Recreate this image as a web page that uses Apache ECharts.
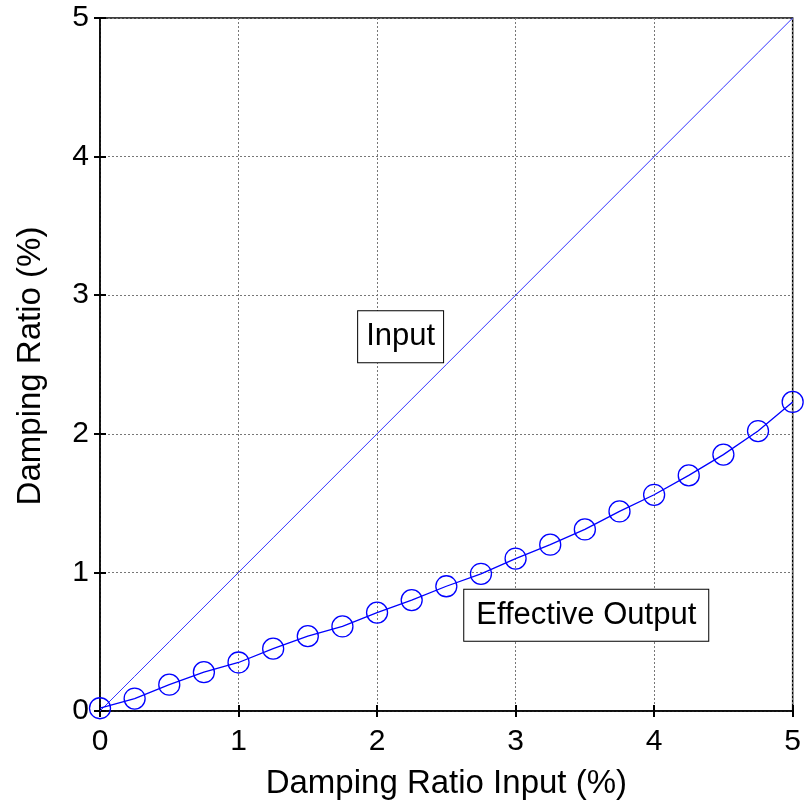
<!DOCTYPE html>
<html>
<head>
<meta charset="utf-8">
<script src="https://cdn.jsdelivr.net/npm/echarts@6/dist/echarts.min.js"></script>
<style>
  html, body { margin: 0; padding: 0; background: #fff; }
  #chart { width: 804px; height: 806px; }
</style>
</head>
<body>
<div id="chart"></div>
<script>
const inputX = [0, 0.25, 0.5, 0.75, 1, 1.25, 1.5, 1.75, 2, 2.25, 2.5, 2.75, 3, 3.25, 3.5, 3.75, 4, 4.25, 4.5, 4.75, 5]
const inputY = [0, 0.25, 0.5, 0.75, 1, 1.25, 1.5, 1.75, 2, 2.25, 2.5, 2.75, 3, 3.25, 3.5, 3.75, 4, 4.25, 4.5, 4.75, 5]
const outputY = [0.02, 0.09, 0.19, 0.28, 0.35, 0.45, 0.54, 0.61, 0.71, 0.8, 0.9, 0.99, 1.1, 1.2, 1.31, 1.44, 1.56, 1.7, 1.85, 2.02, 2.23]
const tickLabels = ['0', '1', '2', '3', '4', '5']

const FONT = 'Liberation Sans'
const chart = echarts.init(document.getElementById('chart'))

const pairs = (xs, ys) => xs.map((x, i) => [x, ys[i]])

const gridLine = {
  show: true,
  lineStyle: { color: '#777', width: 1, type: [2, 2] }
}

const boxLabel = (pad) => ({
  show: true,
  position: 'inside',
  color: '#000',
  fontFamily: FONT,
  fontSize: 31,
  lineHeight: 31,
  backgroundColor: '#fff',
  borderColor: '#000',
  borderWidth: 1,
  padding: pad
})

const tick = { show: true, inside: true, length: 6, lineStyle: { color: '#000', width: 2 } }

const option = {
  animation: false,
  backgroundColor: '#fff',
  grid: {
    left: 100, top: 18, width: 695, height: 693,
    show: true, borderColor: '#000', borderWidth: 1.5, backgroundColor: 'transparent'
  },
  // y axis title as rotated text
  graphic: [{
    type: 'text',
    x: 31, y: 366,
    rotation: Math.PI / 2,
    style: {
      text: 'Damping Ratio (%)',
      fontFamily: FONT, fontSize: 33, fill: '#000',
      align: 'center', verticalAlign: 'middle'
    }
  }],
  xAxis: [{
    type: 'value', min: 0, max: 5, interval: 1,
    name: 'Damping Ratio Input (%)', nameLocation: 'middle', nameGap: 56,
    nameTextStyle: { fontFamily: FONT, fontSize: 33, color: '#000' },
    axisLine: { show: true, onZero: false, lineStyle: { color: '#000', width: 1.5 } },
    axisTick: tick,
    axisLabel: {
      fontFamily: FONT, fontSize: 30, color: '#000', margin: 16,
      formatter: v => tickLabels[Math.round(v)]
    },
    splitLine: gridLine
  }, {
    type: 'value', min: 0, max: 5, interval: 1, position: 'top',
    axisLine: { show: false },
    axisTick: tick,
    axisLabel: { show: false },
    splitLine: { show: false }
  }],
  yAxis: [{
    type: 'value', min: 0, max: 5, interval: 1,
    axisLine: { show: true, onZero: false, lineStyle: { color: '#000', width: 1.5 } },
    axisTick: tick,
    axisLabel: {
      fontFamily: FONT, fontSize: 30, color: '#000', margin: 11,
      formatter: v => tickLabels[Math.round(v)]
    },
    splitLine: gridLine
  }, {
    type: 'value', min: 0, max: 5, interval: 1, position: 'right',
    axisLine: { show: false },
    axisTick: tick,
    axisLabel: { show: false },
    splitLine: { show: false }
  }],
  series: [{
    name: 'Input',
    type: 'line',
    data: pairs(inputX, inputY),
    showSymbol: false,
    lineStyle: { color: '#3333ff', width: 1 },
    markPoint: {
      symbol: 'rect', symbolSize: 1,
      itemStyle: { color: 'transparent' },
      label: boxLabel([10, 8, 10, 8]),
      data: [{ coord: [2.17, 2.7], value: 'Input' }]
    }
  }, {
    name: 'Effective Output',
    type: 'line',
    data: pairs(inputX, outputY),
    symbol: 'circle', symbolSize: 21, showAllSymbol: true,
    itemStyle: { color: 'transparent', borderColor: '#0000ff', borderWidth: 1.3 },
    lineStyle: { color: '#0000ff', width: 1.3 },
    markPoint: {
      symbol: 'rect', symbolSize: 1,
      itemStyle: { color: 'transparent' },
      label: boxLabel([10, 12, 10, 12]),
      data: [{ coord: [3.51, 0.69], value: 'Effective Output' }]
    }
  }]
}

chart.setOption(option)
</script>
</body>
</html>
